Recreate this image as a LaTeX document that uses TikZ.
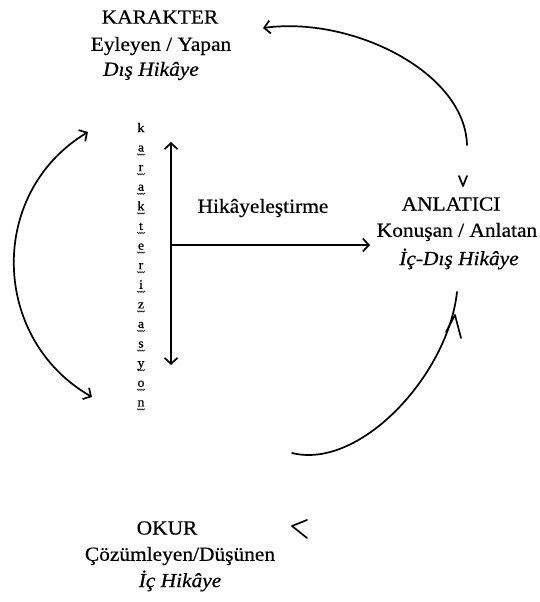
\documentclass[tikz,border=0pt]{standalone}
\usepackage{fontspec}
\setmainfont[FakeStretch=1.07,FakeBold=0.5]{Liberation Serif}
\usetikzlibrary{arrows.meta,decorations.pathmorphing}
\tikzset{
  ln/.style={line width=1.7pt, line cap=round, line join=round},
  tip/.style={-{Straight Barb[length=6pt,width=13pt,line width=1.7pt]}},
  dtip/.style={{Straight Barb[length=6pt,width=13pt,line width=1.7pt]}-{Straight Barb[length=6pt,width=13pt,line width=1.7pt]}},
  lbl/.style={inner sep=0pt, font=\fontsize{20}{22}\selectfont},
  lbli/.style={lbl, font=\fontsize{20}{22}\selectfont\itshape},
  vch/.style={inner sep=0pt, anchor=base, font=\fontsize{13}{14}\selectfont},
  wave/.style={line width=0.5pt, decorate, decoration={snake, amplitude=0.7pt, segment length=2.2pt}},
}
\begin{document}
\begin{tikzpicture}[x=1pt,y=-1pt]
\useasboundingbox (0,0) rectangle (539,602);
% KARAKTER
\node[lbl] (k1) at (160,17) {KARAKTER};
\node[lbl] (k2) at (161,46) {Eyleyen / Yapan};
\node[lbli] (k3) at (151,71) {Dış Hikâye};
% ANLATICI
\node[lbl] (a1) at (451,204) {ANLATICI};
\node[lbl] (a2) at (457,232) {Konuşan / Anlatan};
\node[lbli] (a3) at (459,259) {İç-Dış Hikâye};
% OKUR
\node[lbl] (o1) at (167,528) {OKUR};
\node[lbl] (o2) at (180,556) {Çözümleyen/Düşünen};
\node[lbli] (o3) at (180,581) {İç Hikâye};
% Hikayelestirme
\node[lbl] (h) at (263,208) {Hikâyeleştirme};
% vertical letters
\node[vch] (v0) at (141,132) {k};
\foreach \ch [count=\i] in {a,r,a,k,t,e,r,i,z,a,s,y,o,n}{
  \node[vch] (v\i) at (141,132+19.6*\i) {\ch};
  \draw[wave] ([xshift=-4pt,yshift=-3pt]v\i.base) -- ([xshift=4pt,yshift=-3pt]v\i.base);
}
% vertical double arrow and horizontal arrow
\coordinate (vt) at (171,142);
\coordinate (vb) at (171,365);
\coordinate (hs) at (171,245);
\coordinate (he) at (370,245);
\draw[ln,dtip] (vt) -- (vb);
\draw[ln,tip] (hs) -- (he);
% left double arc
\coordinate (lt) at (88,132);
\coordinate (lb) at (92,397);
\draw[ln,dtip] (lt) .. controls (-13,193) and (-9,339) .. (lb);
% top arc
\coordinate (ts) at (467,145);
\coordinate (te) at (263,28);
\draw[ln,tip] (ts) .. controls (465,72) and (352,16) .. (te);
\draw[ln] (459,176) -- (463,186) -- (467,176);
% bottom-right arc
\coordinate (bs) at (292,453);
\coordinate (be) at (457,292);
\draw[ln] (bs) .. controls (360,470) and (448,375) .. (be);
\draw[ln] (446,332) -- (455,315) -- (461,338);
% chevron near OKUR
\draw[ln] (307,520) -- (292,526) -- (307,538);
\end{tikzpicture}
\end{document}
